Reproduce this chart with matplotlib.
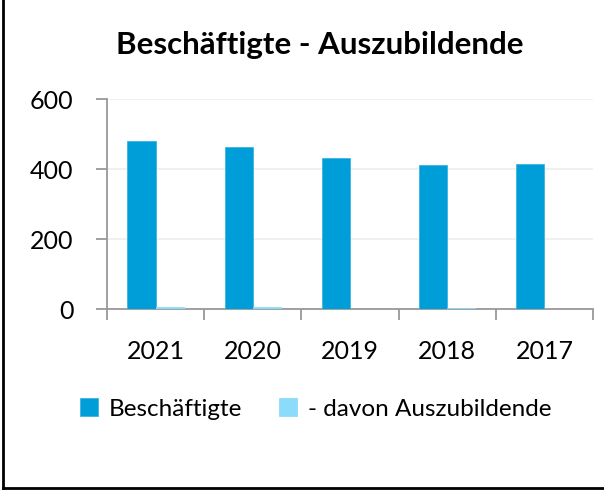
import matplotlib.pyplot as plt
import numpy as np
from matplotlib.lines import Line2D

plt.rcParams['font.family'] = ['Lato', 'DejaVu Sans']

years = ['2021', '2020', '2019', '2018', '2017']
beschaeftigte = [481, 465, 433, 411, 414]
azubis = [7, 7, 1, 4, 1]

fig = plt.figure(figsize=(6.04, 4.9), dpi=100)
ax = fig.add_axes([107 / 604, 1 - 309.3 / 490, 486 / 604, 210 / 490])

x = np.arange(len(years))
w = 0.29
ax.bar(x - w / 2, beschaeftigte, w, color='#009ed9', edgecolor='#3fb3e3', linewidth=0.6,
       label='Beschäftigte', zorder=3)
ax.bar(x + w / 2, azubis, w, color='#8bdcfb', edgecolor='#8bdcfb', linewidth=0.6,
       label='- davon Auszubildende', zorder=3)

ax.set_xlim(-0.5, len(years) - 0.5)
ax.set_ylim(0, 600)
ax.set_yticks([0, 200, 400, 600])
ax.set_xticks(x)
ax.set_xticklabels(years)
ax.set_xticks(np.arange(-0.5, len(years)), minor=True)
ax.tick_params(axis='x', which='major', length=0, pad=22, labelsize=18)
ax.tick_params(axis='x', which='minor', length=8, color='#999999', width=1.3)
ax.tick_params(axis='y', length=8, color='#999999', width=1.3, pad=16, labelsize=18)
ax.grid(axis='y', color='#eeeeee', linewidth=1.2, zorder=0)
for s in ['top', 'right']:
    ax.spines[s].set_visible(False)
for s in ['left', 'bottom']:
    ax.spines[s].set_color('#999999')
    ax.spines[s].set_linewidth(1.3)
ax.spines['bottom'].set_bounds(-0.5, len(years) - 0.5)

fig.text(0.53, 1 - 45 / 490, 'Beschäftigte - Auszubildende', ha='center', va='center',
         fontsize=22.5, fontweight='bold')

fig.legend(loc='center', bbox_to_anchor=(0.523, 1 - 409 / 490), ncol=2, frameon=False,
           fontsize=17.5, handlelength=0.75, handleheight=0.75, handletextpad=0.45,
           columnspacing=1.5)

# outer frame (only left and bottom visible)
fig.add_artist(Line2D([3 / 604, 3 / 604], [0.003, 1], transform=fig.transFigure,
                      color='black', linewidth=2))
fig.add_artist(Line2D([3 / 604, 1], [2 / 490, 2 / 490], transform=fig.transFigure,
                      color='black', linewidth=2))

fig.savefig('out.png', dpi=100, facecolor='white')
